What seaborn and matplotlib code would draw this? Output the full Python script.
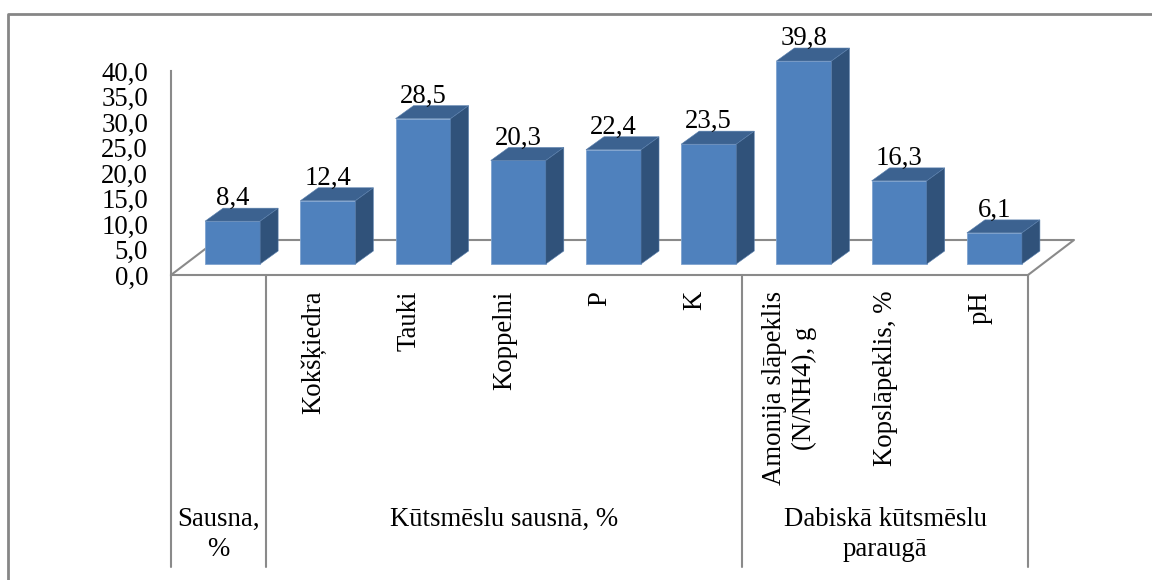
import matplotlib
matplotlib.use("Agg")
import matplotlib.pyplot as plt
import pandas as pd
import seaborn as sns
from matplotlib.patches import Polygon
from matplotlib.lines import Line2D
from matplotlib.transforms import ScaledTranslation, blended_transform_factory

categories = ["Sausna", "Kokšķiedra", "Tauki", "Koppelni", "P", "K",
              "Amonija slāpeklis\n(N/NH4), g", "Kopslāpeklis, %", "pH"]
tick_labels = ["", "Kokšķiedra", "Tauki", "Koppelni", "P", "K",
               "Amonija slāpeklis\n(N/NH4), g", "Kopslāpeklis, %", "pH"]
values = [8.4, 12.4, 28.5, 20.3, 22.4, 23.5, 39.8, 16.3, 6.1]
value_labels = ["8,4", "12,4", "28,5", "20,3", "22,4", "23,5", "39,8", "16,3", "6,1"]
y_ticks = [0, 5, 10, 15, 20, 25, 30, 35, 40]
y_tick_labels = ["0,0", "5,0", "10,0", "15,0", "20,0", "25,0", "30,0", "35,0", "40,0"]
group_names = ["Sausna,\n%", "Kūtsmēslu sausnā, %", "Dabiskā kūtsmēslu\nparaugā"]
group_edges = [-0.5, 0.5, 5.5, 8.5]

W, H, DPI = 1152, 580, 100
FRONT, TOP, SIDE = "#4F81BD", "#3C6290", "#30527A"
GRID = "#8A8A8A"
FS = 19.3

sns.set_theme(style="white")
plt.rcParams["font.family"] = ["Liberation Serif", "DejaVu Serif"]

fig = plt.figure(figsize=(W / DPI, H / DPI), dpi=DPI, facecolor="white")
ax = fig.add_axes([171 / W, (H - 275) / H, 857 / W, 204 / H])
df = pd.DataFrame({"category": categories, "value": values})
sns.barplot(data=df, x="category", y="value", color=FRONT, saturation=1,
            width=0.578, ax=ax, zorder=3)
ax.set_xlim(-0.5, 8.5)
ax.set_ylim(0, 40)
ax.set_xlabel("")
ax.set_ylabel("")

px_x = 9 / 857
px_y = 40 / 204
shift = ax.transData + ScaledTranslation(14 / DPI, 11 / DPI, fig.dpi_scale_trans)
dx, dy = 18 * px_x, 13 * px_y

# floor of the 3D box, behind the bars
floor_dx, floor_dy = 46 * px_x, 35 * px_y
ax.plot([-0.5, -0.5 + floor_dx, 8.5 + floor_dx, 8.5],
        [0, floor_dy, floor_dy, 0], color=GRID, lw=1.5, clip_on=False, zorder=1)

# depth faces of every bar, taken from the bars seaborn drew
for bar, val, lab in zip(ax.patches, values, value_labels):
    x0, x1 = bar.get_x(), bar.get_x() + bar.get_width()
    h = bar.get_height()
    bar.set_transform(shift)
    bar.set_clip_on(False)
    bar.set_edgecolor("#7FA3CF")
    bar.set_linewidth(0.6)
    ax.add_patch(Polygon([(x0, h), (x1, h), (x1 + dx, h + dy), (x0 + dx, h + dy)],
                         closed=True, fc=TOP, ec="#5A80AE", lw=0.4,
                         transform=shift, clip_on=False, zorder=3))
    ax.add_patch(Polygon([(x1, 0), (x1 + dx, dy), (x1 + dx, h + dy), (x1, h)],
                         closed=True, fc=SIDE, ec="#5A80AE", lw=0.4,
                         transform=shift, clip_on=False, zorder=3))
    ax.annotate(lab, xy=((x0 + x1) / 2, h), xytext=(14 * 72 / DPI, 27 * 72 / DPI),
                textcoords="offset points", ha="center", va="baseline",
                fontsize=FS, color="black", zorder=5)

# axes
for side in ("top", "right"):
    ax.spines[side].set_visible(False)
for side in ("left", "bottom"):
    ax.spines[side].set_color(GRID)
    ax.spines[side].set_linewidth(1.5)
    ax.spines[side].set_zorder(2)
ax.set_yticks(y_ticks)
ax.set_yticklabels(y_tick_labels, fontsize=FS, color="black")
ax.tick_params(axis="y", length=0, pad=16.5)
ax.set_xticks(range(len(tick_labels)))
ax.set_xticklabels(tick_labels, rotation=90, va="top", ha="center",
                   fontsize=FS, color="black", linespacing=1.25)
ax.tick_params(axis="x", length=0, pad=11.5)

# group separators and group names below the axis
blend = blended_transform_factory(ax.transData, ax.transAxes)
sep_bottom = -292 / 204
for e in group_edges:
    ax.plot([e, e], [0, sep_bottom], color=GRID, lw=1.5, transform=blend,
            clip_on=False, zorder=1)
for name, a, b in zip(group_names, group_edges[:-1], group_edges[1:]):
    ax.text((a + b) / 2, -232 / 204, name, transform=blend, ha="center", va="top",
            fontsize=FS, color="black", linespacing=1.25)

# outer chart frame, cut off by the picture at right and bottom
fx = lambda p: p / W
fy = lambda p: 1 - p / H
fig.add_artist(Line2D([fx(8), fx(8), 1], [0, fy(14), fy(14)], color="#868686", lw=2))

fig.savefig("out.png", dpi=DPI, facecolor="white")
